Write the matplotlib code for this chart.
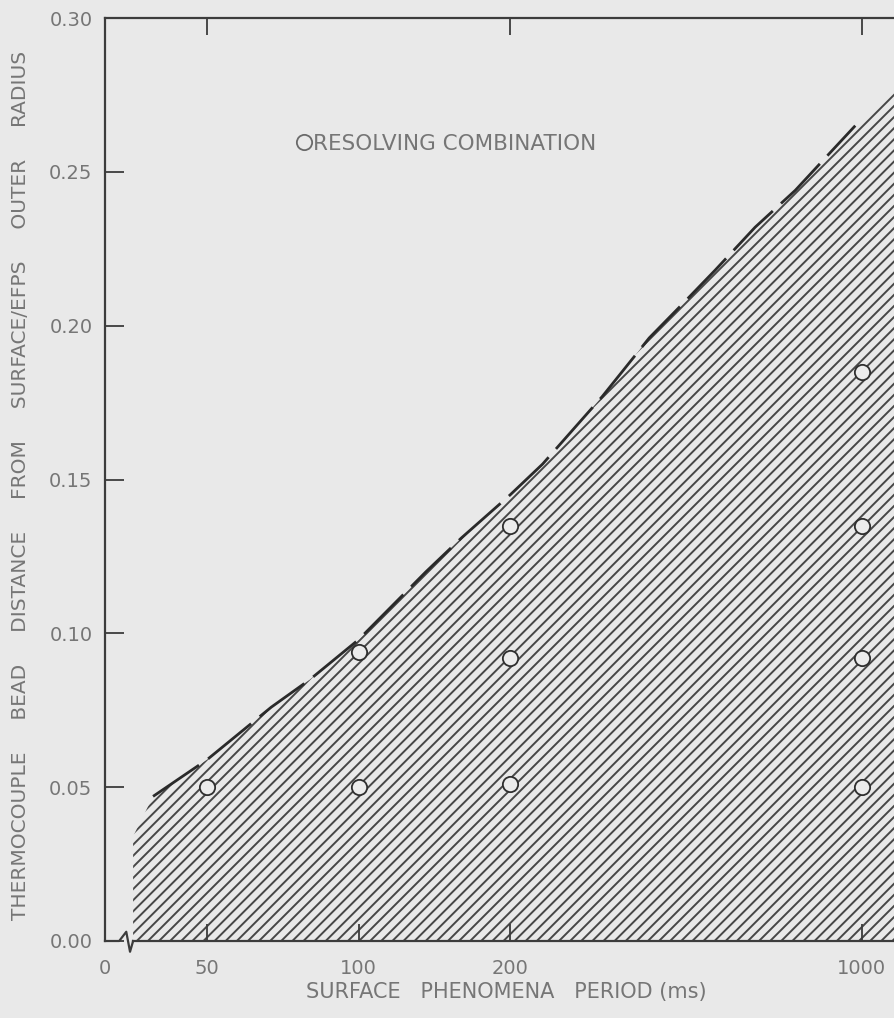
import numpy as np
import matplotlib
matplotlib.use("Agg")
import matplotlib.pyplot as plt
from matplotlib.lines import Line2D

plt.rcParams['font.family'] = ['DejaVu Sans']
plt.rcParams['hatch.linewidth'] = 1.4

# resolving-limit boundary (ms, fraction of outer radius)
bound_x = [39, 50, 67, 80, 100, 136, 160, 200, 232, 305, 378, 440, 511, 614, 738, 863, 971]
bound_y = [0.047, 0.059, 0.076, 0.085, 0.098, 0.120, 0.131, 0.145, 0.155, 0.177,
           0.196, 0.207, 0.218, 0.232, 0.244, 0.256, 0.265]

# hatched region continues past the dashed curve
hatch_x = [35.6] + bound_x + [1172, 1300]
hatch_y = [0.034] + bound_y + [0.277, 0.284]

# resolving combinations
pts_x = [50, 100, 100, 200, 200, 200, 1000, 1000, 1000, 1000]
pts_y = [0.050, 0.094, 0.050, 0.135, 0.092, 0.051, 0.185, 0.135, 0.092, 0.050]

x_ticks = [31.3, 50, 100, 200, 1000]
x_labels = ['0', '50', '100', '200', '1000']
y_ticks = [0.00, 0.05, 0.10, 0.15, 0.20, 0.25, 0.30]
y_labels = ['0.00', '0.05', '0.10', '0.15', '0.20', '0.25', '0.30']

bg = '#e9e9e9'
ink = '#3c3c3c'
txt = '#767676'

fig = plt.figure(figsize=(8.94, 10.18), dpi=100, facecolor=bg)
ax = fig.add_axes([105/894, 77/1018, 814/894, 923/1018])
ax.set_facecolor(bg)
ax.set_xscale('log')
ax.set_xlim(31.3, 1300)
ax.set_ylim(0, 0.30)

ax.fill_between(hatch_x, 0, hatch_y, facecolor='none', edgecolor='#474747',
                hatch='///', linewidth=0, zorder=1)
ax.plot(bound_x, bound_y, color='#2a2a2a', lw=2.0, dashes=(20, 4), zorder=3)
ax.plot(pts_x, pts_y, 'o', ms=11, mfc='#ececec', mec='#2f2f2f', mew=1.3,
        ls='none', zorder=4)

for s in ['top', 'left', 'bottom']:
    ax.spines[s].set_color(ink)
    ax.spines[s].set_linewidth(1.6)
ax.spines['right'].set_visible(False)
ax.spines['bottom'].set_bounds(35.6, 1300)

# broken-axis zigzag near the origin
brk_x = [31.3, 33.4, 34.5, 35.1, 35.6]
brk_y = [0.0, 0.0, 0.003, -0.0035, 0.0]
ax.plot(brk_x, brk_y, color=ink, lw=1.6, clip_on=False, zorder=5)

ax.set_xticks(x_ticks)
ax.set_xticklabels(x_labels)
ax.xaxis.set_minor_locator(matplotlib.ticker.NullLocator())
ax.set_yticks(y_ticks)
ax.set_yticklabels(y_labels)
ax.tick_params(axis='both', direction='in', colors=ink, labelcolor=txt,
               labelsize=14, width=1.3)
ax.tick_params(axis='y', length=14, pad=9)
ax.tick_params(axis='x', length=12, pad=13)

top = ax.secondary_xaxis('top')
top.set_xticks([50, 200, 1000])
top.xaxis.set_minor_locator(matplotlib.ticker.NullLocator())
top.set_xticklabels([])
top.tick_params(direction='in', length=12, width=1.3, colors=ink)
top.spines['top'].set_visible(False)

ax.set_xlabel('SURFACE   PHENOMENA   PERIOD (ms)', fontsize=15, color=txt)
ax.xaxis.set_label_coords((506 - 105) / 814, -(982 - 941) / 923)
ax.set_ylabel('THERMOCOUPLE     BEAD     DISTANCE     FROM     SURFACE/EFPS     OUTER     RADIUS',
              fontsize=14.5, color=txt)
ax.yaxis.set_label_coords(-(105 - 30) / 814, (941 - 485) / 923)

handle = Line2D([], [], marker='o', ms=11, mfc=bg, mec='#6a6a6a', mew=1.3, ls='none')
ax.legend([handle], ['RESOLVING COMBINATION'], loc='center left',
          bbox_to_anchor=(296/894, 1 - 144/1018), bbox_transform=fig.transFigure,
          frameon=False, handlelength=0.7, handletextpad=0.1, borderpad=0,
          borderaxespad=0, prop={'size': 15.5}, labelcolor=txt)

fig.savefig('out.png', dpi=100, facecolor=bg)
